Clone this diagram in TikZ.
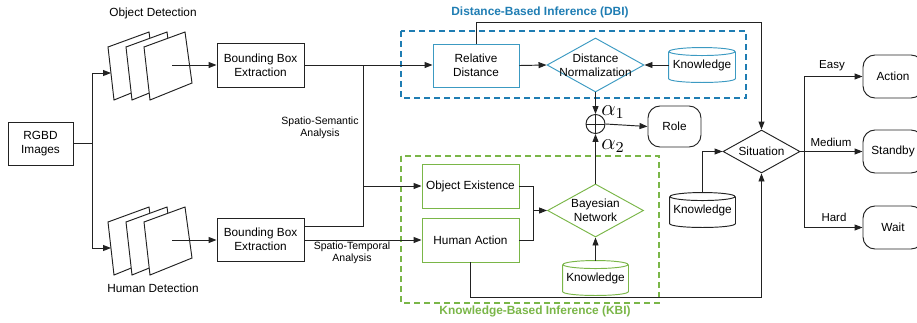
\documentclass[tikz,border=0pt]{standalone}
\usepackage{fontspec}
\setmainfont{Liberation Sans}
\usetikzlibrary{shapes.geometric,arrows.meta,calc}
\definecolor{dbiblue}{HTML}{1F7DB3}
\definecolor{rdblue}{HTML}{3C9AC2}
\definecolor{kbigreen}{HTML}{7AB648}
\definecolor{ink}{HTML}{222222}
\newcommand\kcyl[3]{%
  \draw[#2] ([yshift=-4pt]#1.north west) -- ([yshift=4pt]#1.south west)
     .. controls +(0,5.33) and +(0,5.33) .. ([yshift=4pt]#1.south east) -- ([yshift=-4pt]#1.north east);
  \draw[#2] ([yshift=-4pt]#1.north) ellipse [x radius=#3pt, y radius=4pt];}
\begin{document}
\begin{tikzpicture}[x=1pt,y=-1pt,line width=0.95pt,draw=ink,
  font=\fontsize{11.8}{13.6}\selectfont,
  arr/.style={-{Triangle[length=8pt,width=6pt]}},
  box/.style={draw,align=center,inner sep=0pt},
  rbox/.style={draw,align=center,inner sep=0pt,rounded corners=12pt},
  dia/.style={diamond,draw,inner sep=0pt},
  cyltext/.style={inner sep=0pt,minimum height=34pt},
  small/.style={font=\fontsize{10.5}{12.2}\selectfont,align=center},
  edgelab/.style={font=\fontsize{11.5}{13}\selectfont},
  title/.style={font=\fontsize{11.9}{13.6}\selectfont\bfseries},
  alab/.style={scale=1.9,inner sep=0pt},
  frame/.style={fill=white,line width=0.95pt}]
\useasboundingbox (0,0) rectangle (917,322);

% group frames
\draw[dbiblue,dash pattern=on 6pt off 4pt,line width=1.4pt] (401,31) rectangle (746,98);
\draw[kbigreen,dash pattern=on 6pt off 4pt,line width=1.4pt] (401,156) rectangle (659,303);
\node[title,text=dbiblue] (dbit) at (540,12) {Distance-Based Inference (DBI)};
\node[title,text=kbigreen] (kbit) at (535,311) {Knowledge-Based Inference (KBI)};

% image stacks
\foreach \dx in {0,18,36} {
  \draw[frame] (108+\dx,47) -- ++(41,-15) -- ++(7,51) -- ++(-42,17) -- cycle;
  \draw[frame] (108+\dx,222) -- ++(41,-15) -- ++(7,51) -- ++(-42,17) -- cycle;
}
\node (odt) at (153,13) {Object Detection};
\node (hdt) at (153,288) {Human Detection};

% nodes
\node[box,minimum width=65pt,minimum height=43pt] (rgbd) at (40.5,143.5) {RGBD\\Images};
\node[box,minimum width=87pt,minimum height=44pt] (bb1) at (260.5,65) {Bounding Box\\Extraction};
\node[box,minimum width=87pt,minimum height=43pt] (bb2) at (260.5,239.5) {Bounding Box\\Extraction};
\node[box,draw=rdblue,minimum width=86pt,minimum height=43pt] (rd) at (476,65.5) {Relative\\Distance};
\node[dia,draw=rdblue,minimum width=97pt,minimum height=54pt,
  label={[align=center,inner sep=0pt]center:Distance\\Normalization}] (dn) at (595.5,65) {};
\node[cyltext,minimum width=66pt] (kn1) at (702,65) {\raisebox{-2pt}{Knowledge}};
\kcyl{kn1}{rdblue}{33}
\node[draw,circle,minimum size=19pt,inner sep=0pt,
  path picture={\draw (path picture bounding box.north) -- (path picture bounding box.south)
    (path picture bounding box.west) -- (path picture bounding box.east);}] (op) at (595.5,124) {};
\node[alab] (a1) at (613,112) {$\alpha_1$};
\node[alab] (a2) at (613,146) {$\alpha_2$};
\node[rbox,minimum width=53pt,minimum height=41pt] (role) at (674.5,126.5) {Role};

\node[box,draw=kbigreen,minimum width=97pt,minimum height=44pt] (oe) at (470.5,186) {Object Existence};
\node[box,draw=kbigreen,minimum width=97pt,minimum height=44pt] (ha) at (470.5,240) {Human Action};
\node[dia,draw=kbigreen,minimum width=96pt,minimum height=53pt,
  label={[align=center,inner sep=0pt]center:Bayesian\\Network}] (bn) at (595.5,210.5) {};
\node[cyltext,minimum width=65pt] (kn2) at (595.5,278) {\raisebox{-2pt}{Knowledge}};
\kcyl{kn2}{kbigreen}{32.5}

\node[dia,minimum width=77pt,minimum height=43pt,
  label={[inner sep=0pt]center:Situation}] (sit) at (761.5,151.5) {};
\node[cyltext,minimum width=65pt] (kn3) at (702.5,210) {\raisebox{-2pt}{Knowledge}};
\kcyl{kn3}{ink}{32.5}

\node[rbox,minimum width=60pt,minimum height=43pt] (act) at (893,76.5) {Action};
\node[rbox,minimum width=60pt,minimum height=43pt] (stb) at (893,151.5) {Standby};
\node[rbox,minimum width=60pt,minimum height=43pt] (wait) at (893,227.5) {Wait};

% helper coordinates
\coordinate (sv) at (92,0);
\coordinate (ft) at (111,73);
\coordinate (fb) at (111,248);
\coordinate (fo1) at (172,65);
\coordinate (fo2) at (172,240);
\coordinate (j1) at (363,65);
\coordinate (j2) at (363,226);
\coordinate (m) at (533,0);
\coordinate (top) at (0,22);
\coordinate (bot) at (0,297);
\coordinate (sp) at (804,0);

% connectors
\draw (rgbd.east) -- (rgbd.east -| sv);
\draw (sv |- ft) -- (sv |- fb);
\draw[arr] (sv |- ft) -- (ft);
\draw[arr] (sv |- fb) -- (fb);
\draw[arr] (fo1) -- (fo1 -| bb1.west);
\draw[arr] (fo2) -- (fo2 -| bb2.west);

\draw[arr] (bb1.east) -- (bb1.east -| rd.west);
\draw (j1) -- (j2) -- (j2 -| bb2.east);
\draw[arr] (j1 |- oe.west) -- (oe.west);
\draw[arr] (bb2.east |- ha.west) -- (ha.west);
\node[small] (ssa) at (320,128) {Spatio-Semantic\\Analysis};
\node[small] (sta) at (352,253) {Spatio-Temporal\\Analysis};

\draw[arr] (rd.east) -- (dn.west);
\draw[arr] (kn1.west) -- (dn.east);
\draw[arr] (rd.north) -- (rd.north |- top) -| (sit.north);
\draw[arr] (dn.south) -- (op.north);
\draw[arr] (bn.north) -- (op.south);
\draw[arr] (op.east) -- (role.west);

\draw (oe.east) -- (oe.east -| m) -- (ha.east -| m) -- (ha.east);
\draw[arr] (m |- bn.west) -- (bn.west);
\draw[arr] (kn2.north) -- (bn.south);
\draw[arr] (ha.south) -- (ha.south |- bot) -| (sit.south);
\draw[arr] (kn3.north) |- (sit.west);

\draw (sit.east) -- (sit.east -| sp);
\draw (sp |- act.west) -- (sp |- wait.west);
\draw[arr] (sp |- act.west) -- (act.west);
\draw[arr] (sit.east) -- (stb.west);
\draw[arr] (sp |- wait.west) -- (wait.west);
\node[edgelab] (le) at (832,66) {Easy};
\node[edgelab] (lm) at (831,142) {Medium};
\node[edgelab] (lh) at (834,217) {Hard};
\end{tikzpicture}
\end{document}
